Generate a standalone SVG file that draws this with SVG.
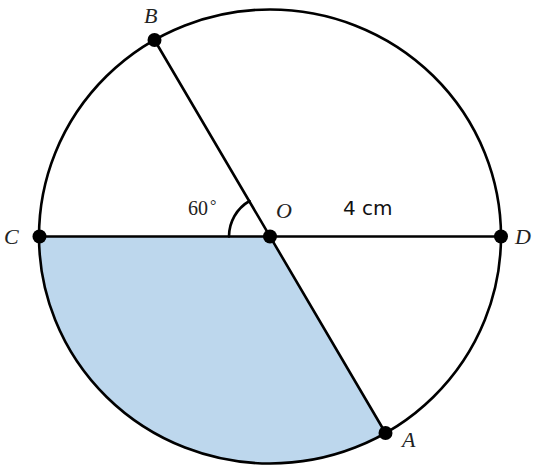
<svg xmlns="http://www.w3.org/2000/svg" width="543" height="476" viewBox="0 0 543 476">
<style>
.ln{fill:none;stroke:#000;stroke-width:2.6;stroke-linecap:round}
.pt{fill:#000}
.lbl{font-family:"Liberation Serif",serif;font-style:italic;font-size:22px;fill:#222}
.num{font-family:"Liberation Serif",serif;font-size:20px;fill:#222}
.sans{font-family:"DejaVu Sans","Liberation Sans",sans-serif;font-size:20px;fill:#111}
</style>
<rect width="543" height="476" fill="#fff"/>
<g id="shade">
<path d="M39.5,236.5 A231,227 0 0 0 385.5,433 L270,236.5 Z" fill="#bdd7ed"/>
</g>
<g id="circle">
<ellipse cx="270" cy="236.5" rx="231" ry="227" class="ln"/>
</g>
<g id="connectors">
<line x1="39.5" y1="236.5" x2="501" y2="236.5" class="ln"/>
<line x1="154.5" y1="40" x2="385.5" y2="433" class="ln"/>
<path d="M229,236.5 A41,41 0 0 1 249.5,201" class="ln"/>
</g>
<g id="nodeB"><circle cx="154.5" cy="40" r="7" class="pt"/><text x="144" y="23" class="lbl">B</text></g>
<g id="nodeC"><circle cx="39.5" cy="236.5" r="7" class="pt"/><text x="4" y="244" class="lbl">C</text></g>
<g id="nodeO"><circle cx="270" cy="236.5" r="7" class="pt"/><text x="276" y="218" class="lbl">O</text></g>
<g id="nodeD"><circle cx="501" cy="236.5" r="7" class="pt"/><text x="515" y="244" class="lbl">D</text></g>
<g id="nodeA"><circle cx="385.5" cy="433" r="7" class="pt"/><text x="402" y="447" class="lbl">A</text></g>
<g id="labels">
<text x="188" y="215" class="num">60<tspan dx="2" dy="-4" font-size="16">°</tspan></text>
<text x="343" y="215" class="sans">4 cm</text>
</g>
</svg>
